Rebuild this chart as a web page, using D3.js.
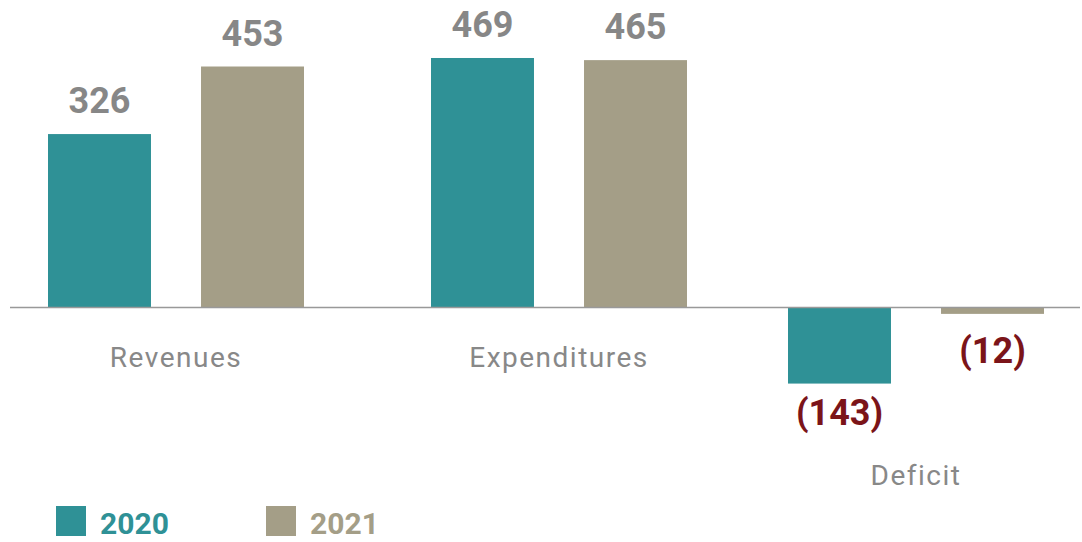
<!DOCTYPE html>
<html>
<head>
<meta charset="utf-8">
<script src="https://cdn.jsdelivr.net/npm/d3@7"></script>
<style>
    body { margin: 0; background: #fff; }
    svg { display: block; font-family: Roboto, "DejaVu Sans", sans-serif; }
</style>
</head>
<body>
<div id="chart"></div>
<script>
// chart data
const categories = ["Revenues", "Expenditures", "Deficit"];
const years = ["2020", "2021"];
const values2020 = [326, 469, -143];
const values2021 = [453, 465, -12];

const colors = { "2020": "#2f9196", "2021": "#a49e87" };

const width = 1082, height = 542;

const svg = d3.select("#chart").append("svg")
    .attr("width", width)
    .attr("height", height);

const rows = categories.map((c, i) => ({
    category: c,
    values: [
        { year: "2020", value: values2020[i] },
        { year: "2021", value: values2021[i] }
    ]
}));

// group centres are not evenly spaced in the original
const x0 = d3.scaleOrdinal()
    .domain(categories)
    .range([176, 559, 916]);

const x1 = d3.scaleBand()
    .domain(years)
    .range([-128, 128])
    .paddingInner(0.327);

const y = d3.scaleLinear()
    .domain([0, 500])
    .range([307.5, 41.5]);

const groups = svg.selectAll("g.group")
    .data(rows)
    .enter()
    .append("g")
    .attr("class", "group")
    .attr("transform", d => `translate(${x0(d.category)},0)`);

groups.selectAll("rect")
    .data(d => d.values)
    .enter()
    .append("rect")
    .attr("x", d => x1(d.year))
    .attr("width", x1.bandwidth())
    .attr("y", d => y(Math.max(0, d.value)))
    .attr("height", d => Math.abs(y(d.value) - y(0)))
    .attr("fill", d => colors[d.year]);

// value labels
groups.selectAll("text.value")
    .data(d => d.values)
    .enter()
    .append("text")
    .attr("class", "value")
    .attr("x", d => x1(d.year) + x1.bandwidth() / 2)
    .attr("y", d => d.value >= 0 ? y(d.value) - 21 : Math.max(y(d.value) + 41, y(0) + 55))
    .attr("text-anchor", "middle")
    .style("font-size", "36px")
    .style("font-weight", "bold")
    .style("fill", d => d.value >= 0 ? "#878787" : "#7b1419")
    .text(d => d.value >= 0 ? d.value : `(${Math.abs(d.value)})`);

// zero line
svg.append("line")
    .attr("x1", 10)
    .attr("x2", 1080)
    .attr("y1", y(0))
    .attr("y2", y(0))
    .attr("stroke", "#999")
    .attr("stroke-width", 1.5);

// category labels, below the lowest label in the group
groups.append("text")
    .attr("class", "category")
    .attr("x", 0)
    .attr("y", d => {
        const lo = d3.min(d.values, v => v.value);
        return lo >= 0 ? y(0) + 59.5 : y(lo) + 101;
    })
    .attr("text-anchor", "middle")
    .style("font-size", "28px")
    .style("letter-spacing", "1.5px")
    .style("fill", "#888")
    .text(d => d.category);

// legend
const legend = svg.append("g");
const legendX = [56, 266];
years.forEach((yr, i) => {
    legend.append("rect")
        .attr("x", legendX[i])
        .attr("y", 506)
        .attr("width", 30)
        .attr("height", 30)
        .attr("fill", colors[yr]);
    legend.append("text")
        .attr("x", legendX[i] + 44)
        .attr("y", 534)
        .style("font-size", "30px")
        .style("font-weight", "bold")
        .style("fill", colors[yr])
        .text(yr);
});
</script>
</body>
</html>
